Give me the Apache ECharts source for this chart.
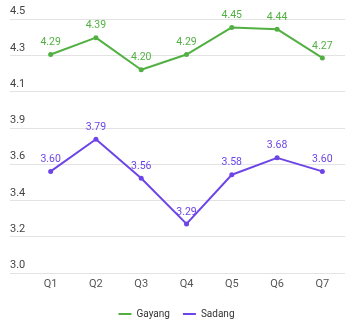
<!DOCTYPE html>
<html>
<head>
<meta charset="utf-8">
<script src="https://cdn.jsdelivr.net/npm/echarts@6/dist/echarts.min.js"></script>
<style>html,body{margin:0;padding:0;background:#fff}#c{width:353px;height:324px}</style>
</head>
<body>
<div id="c"></div>
<script>
const categories = ['Q1','Q2','Q3','Q4','Q5','Q6','Q7'];
const gayang = [4.29, 4.39, 4.20, 4.29, 4.45, 4.44, 4.27];
const sadang = [3.60, 3.79, 3.56, 3.29, 3.58, 3.68, 3.60];
const seriesNames = ['Gayang', 'Sadang'];
const yMin = 3.0, yMax = 4.5, ySplits = 7;

const colors = ['#52b043', '#6d45e6'];
const font = 'Roboto, "Noto Sans", sans-serif';
const chart = echarts.init(document.getElementById('c'), null, {renderer: 'canvas'});
const interval = (yMax - yMin) / ySplits;

chart.setOption({
  animation: false,
  color: colors,
  textStyle: {fontFamily: font},
  grid: [
    {left: 10, right: 8, top: 19, bottom: 51, containLabel: false},
    {left: 28, right: 8, top: 19, bottom: 51, containLabel: false}
  ],
  legend: {
    data: seriesNames,
    bottom: 0,
    left: 'center',
    itemWidth: 13,
    itemHeight: 2,
    itemGap: 13,
    icon: 'rect',
    textStyle: {color: '#333', fontSize: 10, fontFamily: font}
  },
  xAxis: [
    {gridIndex: 0, type: 'category', data: categories, show: false},
    {
      gridIndex: 1, type: 'category', data: categories, boundaryGap: true,
      axisLine: {show: false}, axisTick: {show: false},
      axisLabel: {color: '#555', fontSize: 11, margin: 6, fontFamily: font}
    }
  ],
  yAxis: [
    {
      gridIndex: 0, type: 'value', min: yMin, max: yMax, interval: interval,
      axisLine: {show: false}, axisTick: {show: false},
      splitLine: {show: true, lineStyle: {color: '#e3e3e3', width: 1}},
      axisLabel: {
        inside: true, margin: 0, verticalAlign: 'bottom', padding: [0,0,2,0],
        color: '#444', fontSize: 11, fontFamily: font,
        formatter: v => v.toFixed(1)
      }
    },
    {
      gridIndex: 1, type: 'value', min: yMin, max: yMax, interval: interval,
      show: false, splitLine: {show: false}
    }
  ],
  series: [
    {
      name: seriesNames[0], type: 'line', data: gayang, xAxisIndex: 1, yAxisIndex: 1,
      symbol: 'circle', symbolSize: 5, lineStyle: {width: 2},
      label: {show: true, position: 'top', distance: 4, color: colors[0], fontSize: 10.5, fontFamily: font, formatter: p => p.value.toFixed(2)}
    },
    {
      name: seriesNames[1], type: 'line', data: sadang, xAxisIndex: 1, yAxisIndex: 1,
      symbol: 'circle', symbolSize: 5, lineStyle: {width: 2},
      label: {show: true, position: 'top', distance: 4, color: colors[1], fontSize: 10.5, fontFamily: font, formatter: p => p.value.toFixed(2)}
    }
  ]
});
</script>
</body>
</html>
